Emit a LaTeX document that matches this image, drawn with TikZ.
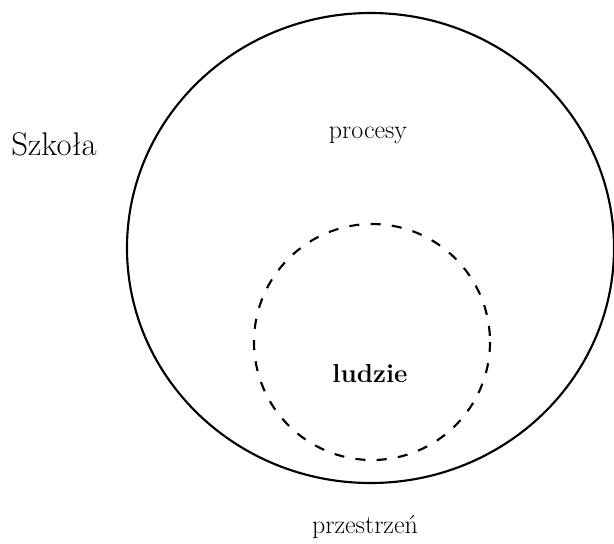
\documentclass[tikz,border=0pt]{standalone}
\usepackage{tikz}
\usetikzlibrary{positioning}

\begin{document}
\begin{tikzpicture}[x=0.75pt, y=-0.75pt, line width=1.6pt,
    every node/.style={font=\fontsize{19.5}{23}\selectfont, inner sep=0pt},
    dashring/.style={dash pattern=on 7.5pt off 8.5pt}]
  \def\cx{370.5} \def\cy{248} \def\rx{243.5} \def\ry{235}
  \def\px{372} \def\py{342} \def\pr{118}
  \useasboundingbox (0,0) rectangle (614,543);
  % school as a whole
  \draw (\cx,\cy) ellipse [x radius=\rx, y radius=\ry];
  % people inside
  \draw[dashring] (\px,\py) circle [radius=\pr];
  \node[anchor=base, font=\fontsize{24.6}{29}\selectfont] (szkola) at (54,155) {Szkoła};
  \node[anchor=base] (procesy) at (368,138) {procesy};
  \node[anchor=base, font=\fontsize{19.5}{23}\selectfont\bfseries] (ludzie) at (370,382) {ludzie};
  \node[anchor=base] (przestrzen) at (365,533) {przestrzeń};
\end{tikzpicture}
\end{document}
